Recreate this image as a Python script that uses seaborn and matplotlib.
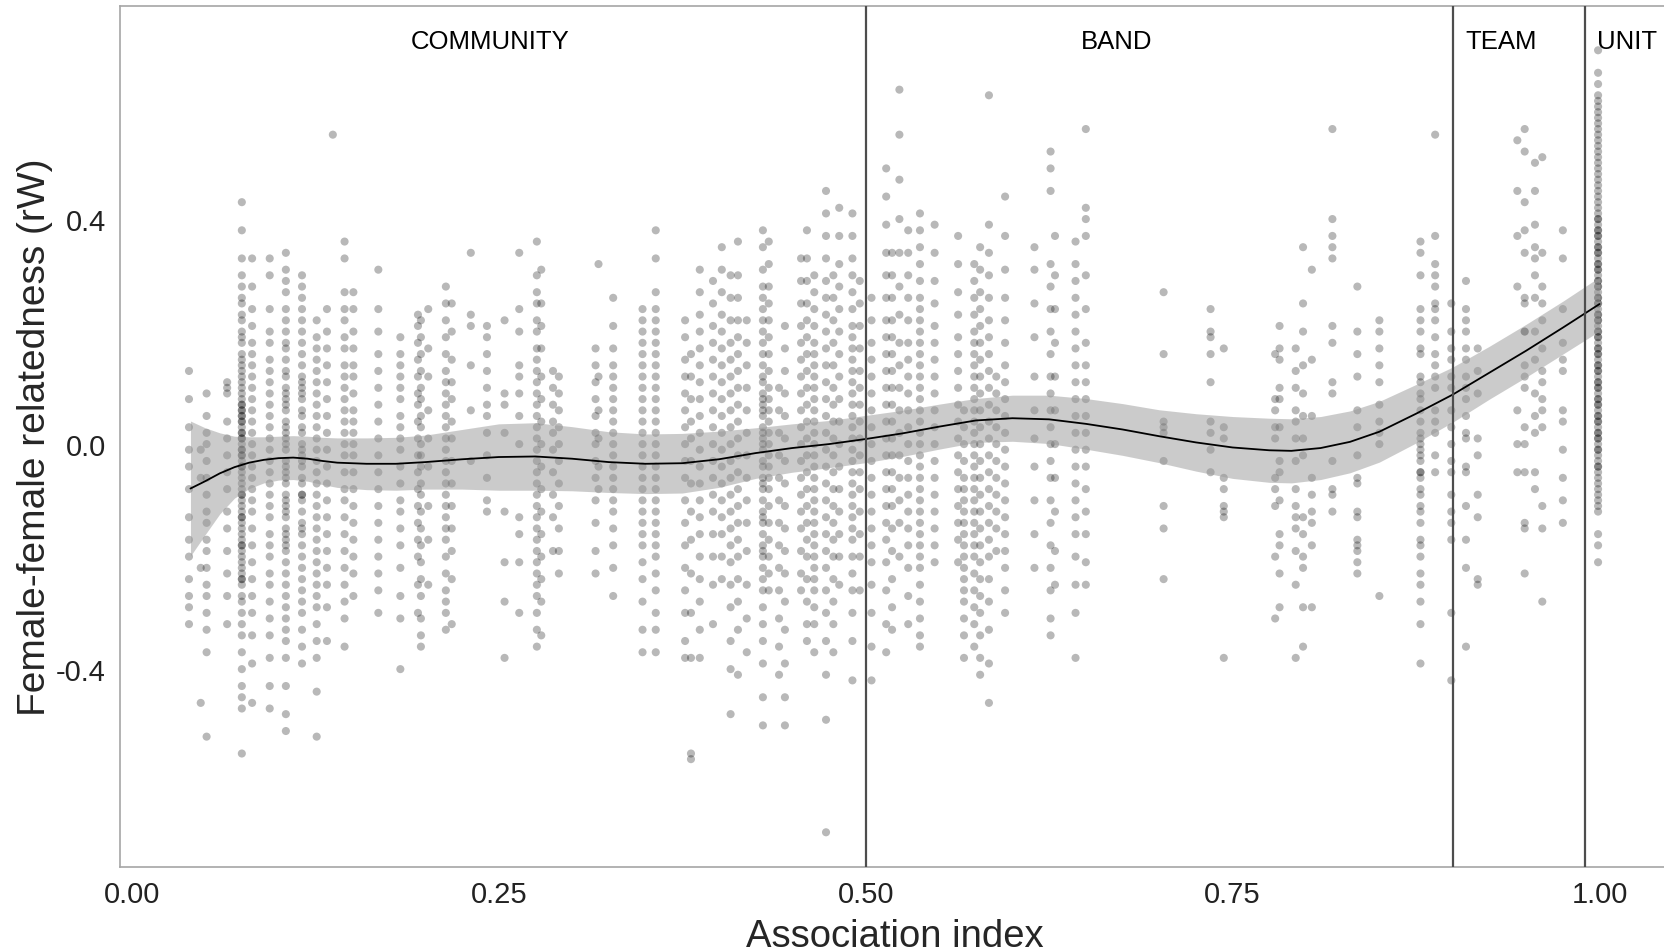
import pandas as pd
import numpy as np
import matplotlib
matplotlib.use("Agg")
import matplotlib.pyplot as plt
import seaborn as sns

# ---- data: association index columns, relatedness values in hundredths ----
community_cols = [
    (0.039, "13 8 3 -1 -4 -8 -13 -17 -20 -24 -27 -29 -32"),
    (0.047, "-1 -6 -22 -46"),
    (0.051, "9 5 2 0 -3 -6 -9 -12 -14 -17 -19 -22 -25 -27 -30 -33 -37 -52"),
    (0.065, "11 10 9 4 1 -2 -5 -8 -12 -15 -19 -23 -27 -32"),
    (0.075, "43 38 33 30 28 26 25 23 22 20 19 18 16 15 14 13 12 11 10 9 8 7 7 6 5 5 4 3 2 1 1 0 "
            "-1 -2 -2 -3 -4 -5 -6 -7 -8 -9 -10 -11 -12 -13 -14 -15 -16 -17 -18 -19 -20 -21 -22 "
            "-23 -24 -25 -27 -28 -30 -32 -34 -37 -40 -43 -45 -47 -55 6 4 2 -1 -4 -9 -13 -18 -24"),
    (0.082, "33 28 24 21 18 16 14 12 10 8 6 4 2 0 -2 -4 -6 -8 -10 -12 -15 -18 -21 -24 -27 -30 -34 -39 -46"),
    (0.094, "33 30 24 20 18 15 13 11 9 7 5 3 1 -1 -3 -5 -7 -9 -11 -13 -16 -18 -20 -23 -25 -28 -31 -34 -38 -43 -47"),
    (0.105, "34 31 29 27 24 22 20 18 17 15 13 12 10 9 7 6 4 3 1 0 -1 -3 -4 -6 -7 -9 -10 -12 -13 -15 "
            "-16 -18 -19 -21 -23 -25 -27 -29 -31 -33 -35 -38 -43 -48 -51 8 2 -5 -11 -17"),
    (0.116, "30 28 26 24 22 20 18 16 14 12 11 9 8 6 5 3 2 0 -1 -3 -4 -6 -7 -9 -10 -12 -14 -16 -18 "
            "-20 -22 -24 -26 -28 -30 -33 -36 -39 10 -2 -9 -15"),
    (0.126, "22 19 17 15 13 11 9 7 5 3 1 -1 -3 -5 -7 -9 -11 -13 -15 -17 -19 -21 -23 -25 -27 -29 -32 -35 -38 -44 -52"),
    (0.133, "24 20 17 14 11 8 5 2 -1 -4 -7 -10 -13 -16 -19 -22 -25 -29 -35"),
    (0.137, "55"),
    (0.145, "36 33 27 24 22 19 17 14 12 10 8 6 4 2 0 -2 -5 -8 -10 -13 -16 -19 -22 -25 -28 -31 -36"),
    (0.151, "27 24 20 17 14 12 9 6 4 2 0 -2 -5 -8 -11 -14 -17 -20 -23 -27"),
    (0.168, "31 24 20 16 13 10 7 4 1 -2 -5 -8 -11 -14 -17 -20 -23 -26 -30"),
    (0.183, "19 16 14 12 10 8 5 3 1 -1 -4 -7 -10 -12 -15 -18 -22 -27 -31 -40"),
    (0.195, "23 21 18 15 12 9 7 4 1 -2 -5 -8 -11 -14 -17 -20 -25 -30"),
    (0.197, "22 19 16 13 10 8 5 3 0 -2 -4 -7 -9 -12 -15 -18 -21 -24 -27 -31 -34 -36"),
    (0.202, "24 17 12 6 1 -4 -11 -17 -25"),
    (0.214, "28 25 22 19 16 13 11 9 7 5 3 1 -1 -3 -5 -7 -9 -11 -13 -15 -17 -20 -23 -26 -28 -30 -33"),
    (0.218, "25 20 15 11 8 4 1 -3 -7 -11 -15 -19 -24 -32"),
    (0.231, "34 23 21 14 6 -3"),
    (0.242, "21 19 16 13 10 7 5 2 -2 -6 -10 -12"),
    (0.254, "22 9 7 2 -12 -21 -28 -38"),
    (0.264, "34 24 20 14 12 9 5 0 -13 -16 -21 -30"),
    (0.276, "36 30 27 25 22 20 17 15 13 11 9 7 5 3 1 -1 -3 -5 -7 -9 -11 -13 -15 -17 -19 -21 -23 -25 -27 -30 -33 -36"),
    (0.279, "31 25 21 17 12 8 4 0 -4 -8 -12 -16 -20 -24 -28 -34"),
    (0.287, "13 10 7 4 2 -1 -5 -9 -13 -19"),
    (0.291, "12 9 6 3 0 -3 -7 -11 -15 -19 -23"),
    (0.316, "17 14 11 8 5 2 0 -3 -6 -10 -14 -19 -23"),
    (0.318, "32 12 6 1 -4 -8"),
    (0.328, "26 21 17 14 12 10 8 6 4 2 0 -2 -4 -6 -8 -10 -12 -15 -18 -22 -27"),
    (0.348, "24 22 20 18 16 14 12 10 8 6 4 2 0 -2 -4 -6 -8 -10 -12 -14 -16 -18 -21 -24 -28 -33 -37"),
    (0.357, "38 33 27 24 22 20 18 16 14 12 10 8 6 4 2 0 -2 -4 -6 -8 -10 -12 -14 -16 -18 -20 -23 -26 -30 -33 -37"),
]

band_cols = [
    (0.377, "22 19 15 12 9 6 3 0 -3 -6 -10 -14 -18 -22 -26 -30 -35 -38"),
    (0.381, "16 12 8 4 1 -3 -7 -12 -17 -23 -30 -38 -55 -56"),
    (0.387, "31 27 23 20 17 14 11 8 5 2 -1 -4 -7 -10 -13 -16 -20 -24 -28 -33 -38"),
    (0.396, "29 25 21 18 15 12 9 6 3 0 -3 -6 -9 -12 -16 -20 -25 -32"),
    (0.402, "35 31 27 23 20 17 14 11 8 5 2 -1 -4 -7 -10 -13 -16 -20 -24"),
    (0.408, "30 26 22 18 15 12 9 6 3 0 -3 -6 -9 -12 -15 -18 -21 -25 -29 -35 -40 -48"),
    (0.413, "36 30 26 22 19 16 13 10 7 4 1 -2 -5 -8 -11 -14 -17 -20 -24 -28 -33 -41"),
    (0.419, "22 18 14 10 6 2 -2 -6 -10 -14 -19 -25 -31 -37"),
    (0.430, "38 35 31 28 26 24 22 20 18 16 14 12 11 9 8 6 5 3 2 0 -1 -3 -4 -6 -8 -10 -12 -14 -16 "
            "-18 -20 -22 -24 -26 -29 -32 -35 -39 -45 -50 7 1 -7 -13 -19"),
    (0.434, "36 32 28 25 22 19 16 13 10 8 6 4 2 0 -2 -4 -6 -8 -11 -14 -17 -20 -23 -26"),
    (0.441, "10 6 2 -2 -6 -10 -14 -18 -22 -26 -31 -36 -41"),
    (0.445, "21 17 13 9 5 1 -3 -7 -11 -15 -19 -23 -28 -33 -39 -45 -50"),
    (0.456, "33 29 25 21 18 15 12 9 6 3 0 -3 -6 -9 -12 -15 -19 -23 -26"),
    (0.460, "38 33 29 25 22 19 16 13 10 7 4 1 -2 -5 -8 -11 -14 -17 -20 -24 -28 -32 -35"),
    (0.465, "30 27 24 21 18 16 14 12 10 8 6 4 2 0 -2 -4 -6 -8 -10 -12 -14 -16 -18 -20 -22 -24 -26 -29 -32 -37"),
    (0.473, "45 41 37 33 29 26 23 20 17 14 11 8 5 2 -1 -4 -7 -10 -13 -16 -19 -22 -26 -30 -35 -41 -49 -69"),
    (0.478, "30 26 22 18 14 10 7 4 1 -2 -5 -8 -11 -14 -17 -20 -24 -28 -32 -37"),
    (0.482, "42 37 32 28 24 20 16 12 8 4 0 -4 -8 -12 -16 -20 -25"),
    (0.491, "41 37 33 30 27 24 21 19 17 15 13 11 9 7 5 3 1 -1 -3 -5 -7 -9 -11 -13 -15 -17 -20 -23 -26 -30 -35 -42"),
    (0.496, "29 25 21 17 13 10 7 4 1 -2 -5 -8 -12 -16 -20 -26"),
    (0.504, "26 22 18 15 12 9 6 3 0 -3 -6 -9 -12 -15 -18 -21 -25 -30 -36 -42"),
    (0.514, "49 44 39 34 30 26 22 19 16 13 10 7 4 1 -2 -5 -8 -11 -14 -17 -21 -26 -32 -37"),
    (0.518, "34 30 26 22 19 16 13 10 7 4 1 -2 -5 -8 -11 -15 -19 -24 -29 -33"),
    (0.523, "63 55 47 40 34 28 23 18 14 10 6 2 -2 -6 -10 -14 -20"),
    (0.529, "38 34 30 26 22 18 15 12 9 6 3 0 -3 -6 -9 -12 -15 -18 -22 -27 -32"),
    (0.537, "41 38 35 32 29 26 24 22 20 18 16 14 12 10 8 6 4 2 0 -2 -4 -6 -8 -10 -12 -14 -16 -18 "
            "-20 -22 -25 -28 -31 -34 -36"),
    (0.547, "39 34 29 25 21 18 15 12 9 6 3 0 -3 -6 -9 -12 -15 -18 -21"),
    (0.563, "37 32 27 23 19 16 13 10 7 4 1 -2 -5 -8 -11 -14 -17 -21"),
    (0.567, "6 3 0 -3 -6 -8 -10 -12 -14 -16 -18 -20 -22 -24 -26 -28 -31 -34 -38"),
    (0.574, "32 29 26 23 20 18 16 14 12 10 8 6 4 2 0 -2 -4 -6 -8 -10 -12 -14 -16 -18 -20 -23 -26 -29 -32 -36"),
    (0.578, "35 31 27 24 21 18 15 12 9 6 3 0 -3 -6 -9 -12 -15 -18 -21 -24 -27 -30 -34 -38 -41"),
    (0.584, "62 39 34 30 26 22 19 16 13 10 7 4 1 -2 -5 -8 -11 -14 -17 -20 -24 -28 -33 -39 -46"),
    (0.589, "12 9 6 3 0 -3 -6 -9 -12 -15 -19"),
    (0.595, "44 37 31 26 22 18 14 11 8 5 2 -1 -4 -7 -10 -13 -16 -19 -22 -26 -30"),
    (0.615, "35 31 25 19 12 6 1 -4 -10 -16 -22"),
    (0.626, "52 49 45 32 28 24 20 16 12 9 6 3 0 -3 -6 -10 -14 -18 -22 -26 -31 -34"),
    (0.629, "37 30 24 18 12 6 0 -6 -12 -19 -25"),
    (0.643, "36 32 29 26 23 20 17 14 11 8 5 2 -1 -4 -7 -10 -13 -16 -20 -25 -30 -38"),
    (0.650, "56 42 40 37 30 24 18 14 11 8 5 2 -1 -4 -8 -12 -16 -21 -25"),
    (0.703, "27 16 4 3 2 -3 -11 -15 -24"),
    (0.735, "24 20 19 16 11 4 2 -1 -5"),
    (0.744, "17 3 1 -6 -8 -11 -12 -13 -38"),
    (0.779, "16 8 6 3 1 -6 -8 -11 -20 -31"),
    (0.782, "21 17 15 10 8 3 -3 -5 -10 -16 -18 -23 -29"),
    (0.793, "17 13 10 6 4 1 -3 -8 -11 -13 -15 -19 -25 -38"),
    (0.798, "35 25 20 14 9 5 1 -2 -13 -16 -20 -22 -29 -36"),
    (0.804, "31 15 5 -6 -9 -12 -14 -18 -29"),
    (0.818, "56 40 37 35 33 21 18 11 9 -3 -8 -9 -12"),
    (0.835, "28 20 16 12 6 3 -2 -6 -7 -12 -13 -17 -18 -19 -21 -23"),
    (0.850, "22 20 17 14 11 7 4 2 0 -27"),
    (0.878, "36 34 30 24 22 20 17 16 12 11 9 8 6 4 2 1 0 -1 -2 -3 -5 -5 -6 -8 -9 -11 -12 -14 -17 "
            "-18 -20 -23 -25 -28 -32 -39"),
    (0.888, "55 37 32 30 28 25 24 22 19 16 14 12 10 6 4 2 -2 -5"),
    (0.899, "25 20 17 15 12 10 6 3 0 -3 -5 -9 -12 -14 -17 -30 -42"),
]

team_cols = [
    (0.909, "29 24 22 20 17 15 12 10 8 5 2 1 -4 -5 -11 -17 -22 -36"),
    (0.917, "17 13 9 1 -2 -9 -13 -24 -25"),
    (0.944, "54 45 37 28 6 0 -5"),
    (0.949, "56 52 43 38 34 26 25 20 20 14 12 10 3 0 -5 -14 -15 -23"),
    (0.956, "50 45 39 35 33 30 26 20 15 9 5 2 -5 -8"),
    (0.961, "51 34 28 25 22 17 13 11 8 6 3 -11 -15 -28"),
    (0.975, "38 33 24 18 15 13 6 4 -1 -6 -10 -14"),
]

unit_cols = [
    (0.999, "70 66 64 62 61 60 59 58 57 56 55 54 53 52 51 50 49 48 47 46 45 44 43 42 41 40 40 39 38 "
            "37 37 36 35 34 34 33 32 31 31 30 29 28 28 27 26 25 25 24 23 22 22 21 20 19 19 18 17 16 "
            "16 15 14 13 13 12 11 10 10 9 8 7 7 6 5 4 4 3 2 1 1 0 -1 -2 -3 -4 -5 -6 -7 -8 -9 -10 "
            "-11 -12 -16 -18 -21 38 35 32 29 26 23 20 17 14 11 8 5 2 -1 -4"),
]

# smooth fit
smooth_x = [0.04, 0.05, 0.06, 0.07, 0.08, 0.09, 0.10, 0.11, 0.12, 0.13, 0.14, 0.16, 0.18, 0.20,
            0.225, 0.25, 0.275, 0.30, 0.325, 0.35, 0.375, 0.40, 0.425, 0.45, 0.475, 0.50, 0.525,
            0.55, 0.575, 0.60, 0.625, 0.65, 0.675, 0.70, 0.725, 0.75, 0.775, 0.79, 0.81, 0.83,
            0.85, 0.875, 0.90, 0.925, 0.95, 0.975, 1.00]
smooth_y = [-0.079, -0.066, -0.052, -0.041, -0.033, -0.028, -0.025, -0.024, -0.026, -0.030, -0.033,
            -0.035, -0.035, -0.032, -0.027, -0.023, -0.022, -0.026, -0.032, -0.035, -0.034, -0.027,
            -0.016, -0.007, 0.000, 0.009, 0.019, 0.031, 0.042, 0.046, 0.044, 0.036, 0.026, 0.014,
            0.003, -0.006, -0.011, -0.012, -0.007, 0.004, 0.022, 0.054, 0.088, 0.127, 0.166, 0.207, 0.249]
smooth_hw = [0.120, 0.095, 0.072, 0.055, 0.046, 0.041, 0.039, 0.039, 0.040, 0.042, 0.044, 0.046,
             0.047, 0.048, 0.053, 0.059, 0.060, 0.057, 0.054, 0.053, 0.053, 0.050, 0.045, 0.043,
             0.042, 0.042, 0.041, 0.040, 0.039, 0.041, 0.043, 0.045, 0.046, 0.047, 0.051, 0.055,
             0.057, 0.057, 0.056, 0.055, 0.054, 0.052, 0.049, 0.047, 0.047, 0.047, 0.048]

boundaries = [0.50, 0.90, 0.99]
group_names = ["COMMUNITY", "BAND", "TEAM", "UNIT"]
group_label_x = [0.244, 0.671, 0.933, 1.019]

# ---- build the long table ----
rows = []
for cols in (community_cols, band_cols, team_cols, unit_cols):
    for x, vals in cols:
        for v in vals.split():
            rows.append((x, int(v) / 100))
df = pd.DataFrame(rows, columns=["assoc", "rw"])

sns.set_theme(style="white")
plt.rcParams["font.family"] = ["Liberation Sans", "DejaVu Sans"]

fig = plt.figure(figsize=(16.65, 9.53), dpi=100)
ax = fig.add_axes([120 / 1665, 85.4 / 953, 1550 / 1665, 860.2 / 953])

sns.scatterplot(data=df, x="assoc", y="rw", color="black", alpha=0.28, s=34,
                edgecolor="none", ax=ax, legend=False)

lo = np.array(smooth_y) - np.array(smooth_hw)
hi = np.array(smooth_y) + np.array(smooth_hw)
ax.fill_between(smooth_x, lo, hi, color="#999999", alpha=0.5, lw=0, zorder=3)
sns.lineplot(x=smooth_x, y=smooth_y, color="black", lw=1.3, ax=ax, zorder=4)

for b in boundaries:
    ax.axvline(b, color="#4d4d4d", lw=1.6, zorder=5)

for name, lx in zip(group_names, group_label_x):
    ax.text(lx, 0.716, name, ha="center", va="center", fontsize=18.5, color="black")

ax.set_xlim(-0.008, 1.048)
ax.set_ylim(-0.751, 0.778)
ax.set_xticks([0, 0.25, 0.5, 0.75, 1.0])
ax.set_xticklabels(["0.00", "0.25", "0.50", "0.75", "1.00"])
ax.set_yticks([-0.4, 0.0, 0.4])
ax.set_yticklabels(["-0.4", "0.0", "0.4"])
ax.tick_params(length=5, width=1, color="#333333", labelsize=21, labelcolor="#222222", pad=5)
ax.set_xlabel("Association index", fontsize=27.5, labelpad=7)
ax.set_ylabel("Female-female relatedness (rW)", fontsize=28, labelpad=2)

for sp in ax.spines.values():
    sp.set_color("#a6a6a6")
    sp.set_linewidth(1.2)

fig.savefig("out.png", dpi=100)
